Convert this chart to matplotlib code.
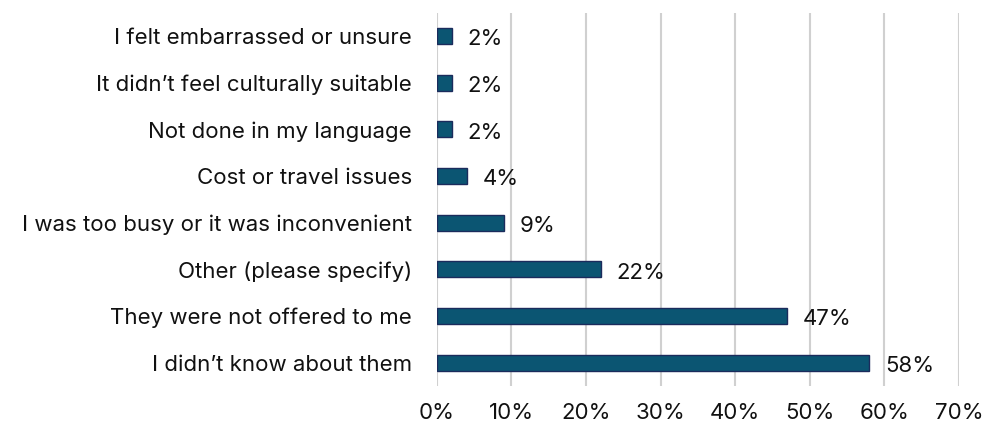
import matplotlib
matplotlib.use("Agg")
import matplotlib.pyplot as plt
from matplotlib.ticker import MultipleLocator, PercentFormatter

# Reasons given, bottom to top as drawn
reasons = [
    "I didn\u2019t know about them",
    "They were not offered to me",
    "Other (please specify)",
    "I was too busy or it was inconvenient",
    "Cost or travel issues",
    "Not done in my language",
    "It didn\u2019t feel culturally suitable",
    "I felt embarrassed or unsure",
]
shares = [58, 47, 22, 9, 4, 2, 2, 2]

plt.rcParams["font.family"] = ["Inter", "DejaVu Sans"]

fig = plt.figure(figsize=(9.84, 4.25), dpi=100)
ax = fig.add_axes([0.444, 0.092, 0.5305, 0.878])

ypos = range(len(reasons))
ax.barh(ypos, shares, height=0.34, color="#0B5572", edgecolor="#1B2B5C", linewidth=1.0, zorder=3)
for y, v in zip(ypos, shares):
    ax.text(v + 2.1, y - 0.07, f"{v}%", va="center", ha="left", fontsize=16, color="#111111")

ax.set_xlim(0, 70)
ax.set_ylim(-0.5, len(reasons) - 0.5)
ax.set_yticks(list(ypos), reasons, fontsize=16, color="#111111")
ax.xaxis.set_major_locator(MultipleLocator(10))
ax.xaxis.set_major_formatter(PercentFormatter(decimals=0))
ax.tick_params(axis="x", labelsize=16, labelcolor="#111111", length=0, pad=12)
ax.tick_params(axis="y", length=0, pad=18)
ax.grid(axis="x", color="#d0d0d0", linewidth=1.5, zorder=0)
for s in ax.spines.values():
    s.set_visible(False)

fig.savefig("out.png", dpi=100)
